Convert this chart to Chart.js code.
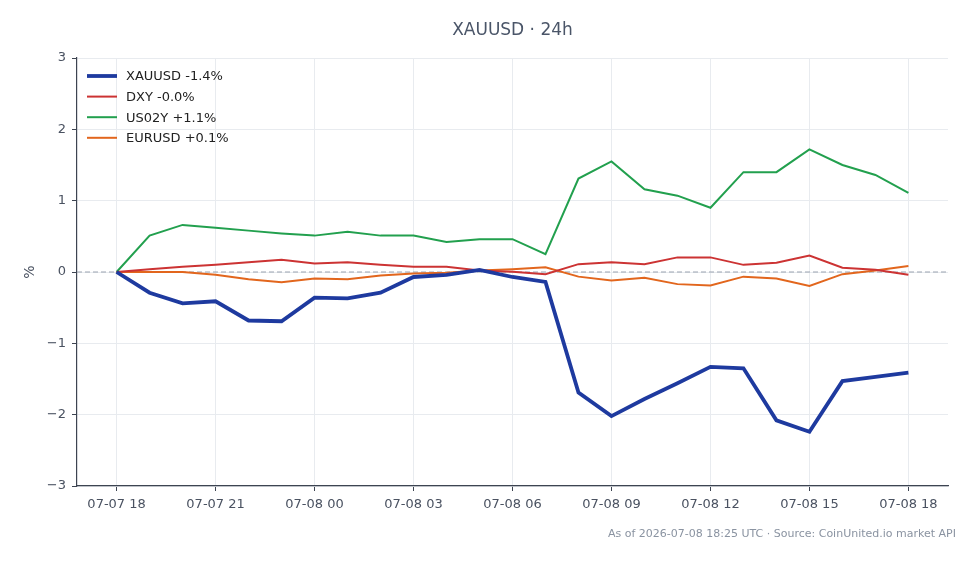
<!DOCTYPE html>
<html>
<head>
<meta charset="utf-8">
<script src="https://cdn.jsdelivr.net/npm/chart.js@4.4.1/dist/chart.umd.min.js"></script>
<style>
  html, body { margin: 0; padding: 0; background: #fff; }
  canvas { display: block; }
</style>
</head>
<body>
<canvas id="chart" width="980" height="564"></canvas>
<script>
'use strict';

// Hourly points, 07-07 18:00 -> 07-08 18:00 (% change from start)
const hours = [0, 1, 2, 3, 4, 5, 6, 7, 8, 9, 10, 11, 12, 13, 14, 15, 16, 17, 18, 19, 20, 21, 22, 23, 24];
const tickLabels = ['07-07 18', '07-07 21', '07-08 00', '07-08 03', '07-08 06', '07-08 09', '07-08 12', '07-08 15', '07-08 18'];
const yTicks = [-3, -2, -1, 0, 1, 2, 3];

const xauusd = [0, -0.29, -0.44, -0.41, -0.68, -0.69, -0.36, -0.37, -0.29, -0.07, -0.04, 0.03, -0.07, -0.14,
  -1.69, -2.02, -1.78, -1.56, -1.33, -1.35, -2.08, -2.24, -1.53, -1.47, -1.41];
const dxy = [0, 0.04, 0.075, 0.10, 0.135, 0.17, 0.12, 0.135, 0.10, 0.075, 0.075, 0.02, 0.005, -0.03,
  0.11, 0.135, 0.11, 0.205, 0.205, 0.10, 0.13, 0.23, 0.06, 0.03, -0.04];
const us02y = [0, 0.51, 0.66, 0.62, 0.58, 0.54, 0.51, 0.565, 0.51, 0.51, 0.42, 0.46, 0.46, 0.25,
  1.31, 1.55, 1.16, 1.07, 0.90, 1.40, 1.40, 1.72, 1.50, 1.36, 1.11];
const eurusd = [0, 0.0, 0.0, -0.04, -0.10, -0.145, -0.09, -0.10, -0.05, -0.02, -0.01, 0.02, 0.04, 0.065,
  -0.065, -0.12, -0.08, -0.17, -0.19, -0.065, -0.09, -0.195, -0.03, 0.02, 0.085];

const seriesNames = ['XAUUSD -1.4%', 'DXY -0.0%', 'US02Y +1.1%', 'EURUSD +0.1%'];
const seriesValues = [xauusd, dxy, us02y, eurusd];
const seriesColors = ['#1e3a9f', '#cc3333', '#22a04e', '#e2661d'];
const seriesWidths = [3.8, 2, 2, 2];

const FONT = '"DejaVu Sans", sans-serif';
const TEXT = '#4a5261';

// Dashed zero line, title, legend, axis label and footnote
const extras = {
  id: 'extras',
  beforeDatasetsDraw(chart) {
    const { ctx, chartArea } = chart;
    const y0 = chart.scales.y.getPixelForValue(0);
    ctx.save();
    ctx.strokeStyle = '#9aa3b0';
    ctx.lineWidth = 1;
    ctx.setLineDash([5, 3]);
    ctx.beginPath();
    ctx.moveTo(chartArea.left, y0);
    ctx.lineTo(chartArea.right, y0);
    ctx.stroke();
    ctx.restore();
  },
  afterDraw(chart) {
    const { ctx, chartArea } = chart;
    ctx.save();

    ctx.fillStyle = '#4a5568';
    ctx.font = '17px ' + FONT;
    ctx.textAlign = 'center';
    ctx.textBaseline = 'middle';
    ctx.fillText('XAUUSD · 24h', (chartArea.left + chartArea.right) / 2, 31);

    // legend inside the plot, top-left
    ctx.font = '13px ' + FONT;
    ctx.textAlign = 'left';
    chart.data.datasets.forEach((ds, i) => {
      const y = chartArea.top + 18 + i * 20.6;
      ctx.strokeStyle = ds.borderColor;
      ctx.lineWidth = ds.borderWidth;
      ctx.beginPath();
      ctx.moveTo(chartArea.left + 10, y);
      ctx.lineTo(chartArea.left + 40, y);
      ctx.stroke();
      ctx.fillStyle = '#222';
      ctx.fillText(ds.label, chartArea.left + 49, y + 1);
    });

    ctx.fillStyle = TEXT;
    ctx.font = '14px ' + FONT;
    ctx.translate(30, (chartArea.top + chartArea.bottom) / 2);
    ctx.rotate(-Math.PI / 2);
    ctx.textAlign = 'center';
    ctx.fillText('%', 0, 0);
    ctx.setTransform(1, 0, 0, 1, 0, 0);

    ctx.fillStyle = '#8a93a1';
    ctx.font = '11px ' + FONT;
    ctx.textAlign = 'right';
    ctx.fillText('As of 2026-07-08 18:25 UTC · Source: CoinUnited.io market API', 956, 534);
    ctx.restore();
  }
};

// lower order is drawn last, so the thick gold line sits on top
const datasets = seriesValues.map((vals, i) => ({
  label: seriesNames[i],
  data: vals.map((v, j) => ({ x: hours[j], y: v })),
  borderColor: seriesColors[i],
  backgroundColor: seriesColors[i],
  borderWidth: seriesWidths[i],
  pointRadius: 0,
  tension: 0,
  fill: false,
  order: i
}));

new Chart(document.getElementById('chart').getContext('2d'), {
  type: 'line',
  data: { datasets: datasets },
  options: {
    responsive: false,
    animation: false,
    layout: { padding: { top: 58, right: 32, left: 0, bottom: 38 } },
    plugins: { legend: { display: false }, title: { display: false }, tooltip: { enabled: false } },
    scales: {
      x: {
        type: 'linear',
        min: -1.2,
        max: 25.2,
        afterBuildTicks: scale => { scale.ticks = tickLabels.map((_, k) => ({ value: k * 3 })); },
        afterFit: scale => { scale.height = 40; },
        grid: { color: '#e8ebef', tickColor: '#3d4451', tickLength: 5, lineWidth: 1 },
        border: { color: '#3d4451', width: 1.2 },
        ticks: {
          autoSkip: false, maxRotation: 0, padding: 6,
          color: TEXT, font: { family: FONT, size: 13 },
          callback: v => tickLabels[v / 3]
        }
      },
      y: {
        min: -3,
        max: 3,
        afterBuildTicks: scale => { scale.ticks = yTicks.map(v => ({ value: v })); },
        afterFit: scale => { scale.width = 77; },
        grid: { color: '#e8ebef', tickColor: '#3d4451', tickLength: 5, lineWidth: 1 },
        border: { color: '#3d4451', width: 1.2 },
        ticks: {
          padding: 6,
          color: TEXT, font: { family: FONT, size: 13 },
          callback: v => (v < 0 ? '\u2212' + Math.abs(v) : String(v))
        }
      }
    }
  },
  plugins: [extras]
});
</script>
</body>
</html>
